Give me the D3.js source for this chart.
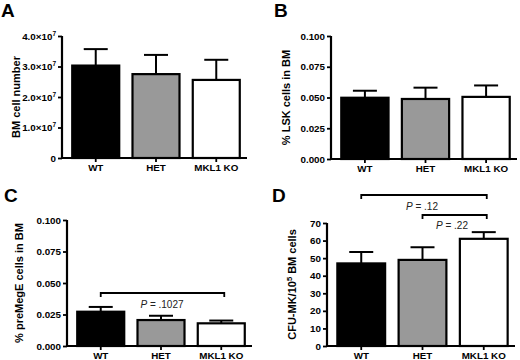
<!DOCTYPE html>
<html><head><meta charset="utf-8">
<script src="https://cdn.jsdelivr.net/npm/d3@7"></script>
<style>body{margin:0;background:#fff}svg{display:block}text{font-family:"Liberation Sans",Arial,sans-serif}</style>
</head><body><svg id="c" width="520" height="360"></svg>
<script>
const categories = ["WT", "HET", "MKL1 KO"];
const barColors = ["#000000", "#999999", "#ffffff"];
// Panel A: BM cell number
const bmCells = [3.03e7, 2.75e7, 2.56e7];
const bmCellsErr = [0.54e7, 0.63e7, 0.66e7];
const bmTicks = [0, 1e7, 2e7, 3e7, 4e7];
// Panel B: % LSK cells in BM
const lsk = [0.0498, 0.0488, 0.0505];
const lskErr = [0.0057, 0.0092, 0.0093];
const pctTicks = [0, 0.025, 0.05, 0.075, 0.1];
// Panel C: % preMegE cells in BM
const premeg = [0.0272, 0.0206, 0.0180];
const premegErr = [0.0038, 0.0034, 0.0022];
// Panel D: CFU-MK per 1e5 BM cells
const cfu = [47, 49, 61];
const cfuErr = [6.5, 7.2, 3.8];
const cfuTicks = [0, 10, 20, 30, 40, 50, 60, 70];

const svg = d3.select("#c");

function sciLabel(sel, v) {
  if (v === 0) { sel.text("0"); return; }
  const m = (v / 1e7).toFixed(1);
  sel.text(null);
  sel.append("tspan").text(m + "×10");
  sel.append("tspan").attr("dy", "-4").attr("font-size", "6.5px").text("7");
}

function panel(o) {
  const g = svg.append("g");
  const y = d3.scaleLinear().domain(o.domain).range([o.y0, o.y1]);
  const x = d3.scaleBand().domain(categories).range([o.x0 + 3, o.x1]).paddingInner(0.22).paddingOuter(0.12);
  const vals = o.values;
  g.selectAll("rect.bar").data(categories).enter().append("rect")
    .attr("x", d => x(d)).attr("width", x.bandwidth())
    .attr("y", (d, i) => y(vals[i])).attr("height", (d, i) => o.y0 - y(vals[i]))
    .attr("fill", (d, i) => barColors[i]).attr("stroke", "#000").attr("stroke-width", 2.2);
  categories.forEach((d, i) => {
    const cx = x(d) + x.bandwidth() / 2;
    const top = y(vals[i] + o.err[i]);
    g.append("line").attr("x1", cx).attr("x2", cx).attr("y1", y(vals[i])).attr("y2", top)
      .attr("stroke", "#000").attr("stroke-width", 2);
    g.append("line").attr("x1", cx - 12).attr("x2", cx + 12).attr("y1", top).attr("y2", top)
      .attr("stroke", "#000").attr("stroke-width", 2);
  });
  const ya = d3.axisLeft(y).tickValues(o.ticks).tickSize(4).tickPadding(2);
  if (o.fmt) ya.tickFormat(o.fmt);
  const yg = g.append("g").attr("transform", `translate(${o.x0},0)`).call(ya);
  const xg = g.append("g").attr("transform", `translate(0,${o.y0})`)
    .call(d3.axisBottom(x).tickSize(4).tickPadding(2).tickSizeOuter(0));
  xg.select(".domain").attr("d", `M${o.x0},0H${o.x1}`);
  [yg, xg].forEach(a => {
    a.select(".domain").attr("stroke-width", 2.2);
    a.selectAll(".tick line").attr("stroke-width", 1.8);
    a.selectAll(".tick text").attr("font-size", "9.8px").attr("font-weight", "bold")
      .attr("font-family", "'Liberation Sans', Arial, sans-serif").attr("fill", "#000");
  });
  if (o.sci) yg.selectAll(".tick text").each(function(v){ sciLabel(d3.select(this), v); });
  yg.select(".domain").attr("d", `M0,${o.y0}V${o.y1}`);
  const t = g.append("text").attr("transform", `translate(${o.tx},${(o.y0 + o.y1) / 2}) rotate(-90)`)
    .attr("text-anchor", "middle").attr("font-size", "11px").attr("font-weight", "bold");
  if (o.title2) {
    t.append("tspan").text(o.title);
    t.append("tspan").attr("dy", "-4").attr("font-size", "7.5px").text(o.titleSup);
    t.append("tspan").attr("dy", "4").text(o.title2);
  } else t.text(o.title);
  svg.append("text").attr("x", o.lx).attr("y", o.ly).attr("font-size", "19px").attr("font-weight", "bold").text(o.letter);
  (o.brackets || []).forEach(b => {
    const xa = x(categories[b.from]) + x.bandwidth() / 2;
    const xb = x(categories[b.to]) + x.bandwidth() / 2 + 3;
    g.append("path").attr("d", `M${xa},${b.y + 4}V${b.y}H${xb}V${b.y + 4}`)
      .attr("fill", "none").attr("stroke", "#000").attr("stroke-width", 1.8);
    const tt = g.append("text").attr("x", b.tx).attr("y", b.y + b.dy).attr("text-anchor", "middle")
      .attr("font-size", "10px").attr("fill", "#222");
    tt.append("tspan").attr("font-style", "italic").text("P");
    tt.append("tspan").text(" = " + b.label);
  });
}

panel({letter: "A", lx: 1, ly: 17, x0: 62, x1: 247, y0: 158, y1: 36, domain: [0, 4e7],
  values: bmCells, err: bmCellsErr, ticks: bmTicks, sci: true, title: "BM cell number", tx: 20});
panel({letter: "B", lx: 274, ly: 17, x0: 331, x1: 517, y0: 159, y1: 36, domain: [0, 0.1],
  values: lsk, err: lskErr, ticks: pctTicks, fmt: d3.format(".3f"), title: "% LSK cells in BM", tx: 290});
panel({letter: "C", lx: 4, ly: 202, x0: 67, x1: 252, y0: 346, y1: 220, domain: [0, 0.1],
  values: premeg, err: premegErr, ticks: pctTicks, fmt: d3.format(".3f"), title: "% preMegE cells in BM", tx: 23,
  brackets: [{from: 0, to: 2, y: 293, tx: 162, dy: 15, label: ".1027"}]});
panel({letter: "D", lx: 272, ly: 202, x0: 327, x1: 515, y0: 346, y1: 223, domain: [0, 70],
  values: cfu, err: cfuErr, ticks: cfuTicks, title: "CFU-MK/10", titleSup: "5", title2: " BM cells", tx: 296,
  brackets: [{from: 0, to: 2, y: 195, tx: 422, dy: 15, label: ".12"},
             {from: 1, to: 2, y: 215, tx: 452, dy: 14, label: ".22"}]});
</script></body></html>
